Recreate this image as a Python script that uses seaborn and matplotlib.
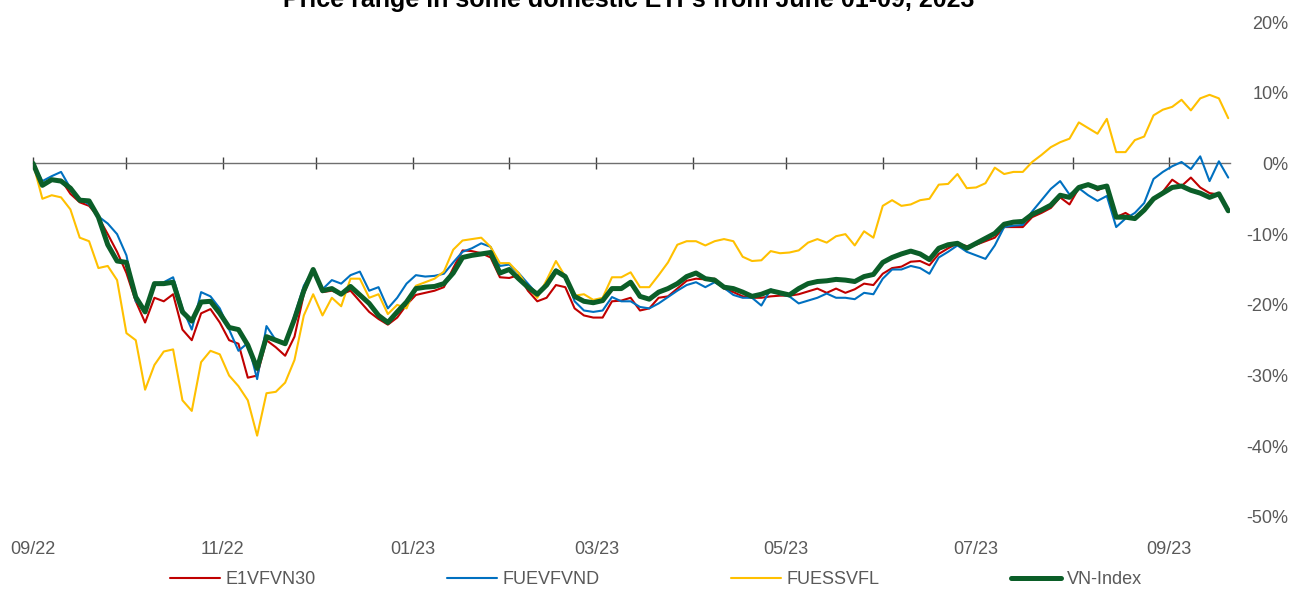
import matplotlib
matplotlib.use('Agg')

import matplotlib.pyplot as plt
import matplotlib.dates as mdates
import seaborn as sns
import pandas as pd

# data: % change vs start, one reading every 3 days
dates = pd.date_range("2022-09-01", periods=129, freq="3D")

e1vfvn30 = [
    0.0, -3.0, -2.4, -2.3, -4.3, -5.5, -6.0, -7.6, -10.0, -12.5,
    -15.5, -19.5, -22.5, -19.0, -19.5, -18.5, -23.5, -25.0, -21.2, -20.6,
    -22.5, -25.0, -25.5, -30.3, -30.0, -25.0, -26.0, -27.2, -24.5, -18.5,
    -15.0, -18.2, -18.0, -18.5, -18.0, -19.5, -21.0, -22.0, -22.8, -21.8,
    -20.0, -18.6, -18.3, -18.0, -17.5, -14.8, -12.3, -12.4, -12.7, -13.3,
    -16.1, -16.2, -15.8, -18.0, -19.5, -19.0, -17.2, -17.5, -20.5, -21.5,
    -21.8, -21.8, -19.5, -19.4, -19.0, -20.8, -20.5, -19.0, -18.8, -17.7,
    -16.6, -16.3, -16.4, -16.3, -17.7, -18.2, -18.8, -19.0, -19.0, -18.8,
    -18.7, -18.7, -18.5, -18.1, -17.7, -18.3, -17.7, -18.3, -17.8, -17.0,
    -17.2, -15.6, -14.8, -14.6, -13.9, -13.8, -14.4, -12.8, -12.0, -11.3,
    -11.7, -11.5, -11.0, -10.5, -9.0, -9.0, -9.0, -7.6, -7.0, -6.3,
    -4.8, -5.8, -3.5, -2.9, -3.8, -3.2, -7.6, -7.0, -7.8, -6.5,
    -5.2, -4.0, -2.3, -3.2, -2.0, -3.4, -4.2, -4.4, -6.4,
]

fuevfvnd = [
    0.0, -2.5, -1.8, -1.2, -3.5, -5.0, -5.8, -7.5, -8.5, -10.0,
    -13.0, -19.5, -20.5, -17.0, -16.8, -16.1, -20.5, -23.5, -18.2, -18.8,
    -20.5, -23.5, -26.5, -25.4, -30.5, -23.0, -25.0, -25.5, -21.5, -17.3,
    -15.0, -17.8, -16.5, -17.0, -15.8, -15.3, -18.0, -17.5, -20.5, -19.0,
    -17.0, -15.8, -16.0, -15.9, -15.6, -14.0, -12.5, -12.0, -11.3, -11.8,
    -14.5, -14.3, -15.5, -17.0, -18.5, -17.0, -15.0, -15.8, -19.5, -20.8,
    -21.0, -20.8, -18.9, -19.5, -19.5, -20.3, -20.5, -19.8, -18.9, -18.0,
    -17.2, -16.8, -17.5, -16.8, -17.6, -18.6, -19.0, -19.0, -20.1, -17.8,
    -18.5, -18.8, -19.8, -19.4, -19.0, -18.4, -19.0, -19.0, -19.2, -18.3,
    -18.5, -16.3, -15.0, -15.0, -14.5, -14.8, -15.6, -13.3, -12.5, -11.6,
    -12.5, -13.0, -13.5, -11.6, -9.0, -8.8, -8.7, -6.8, -5.2, -3.6,
    -2.5, -4.4, -3.5, -4.5, -5.3, -4.6, -9.0, -7.8, -7.0, -5.6,
    -2.2, -1.2, -0.4, 0.2, -0.8, 1.0, -2.5, 0.3, -2.0,
]

fuessvfl = [
    0.0, -5.0, -4.5, -4.8, -6.5, -10.5, -11.0, -14.8, -14.5, -16.5,
    -24.0, -25.0, -32.0, -28.5, -26.6, -26.3, -33.5, -35.0, -28.1, -26.5,
    -27.0, -30.0, -31.5, -33.5, -38.5, -32.5, -32.3, -31.0, -27.8, -21.5,
    -18.5, -21.5, -19.0, -20.2, -16.3, -16.3, -19.0, -18.5, -21.3, -20.0,
    -20.5, -17.3, -16.8, -16.3, -15.3, -12.2, -10.9, -10.7, -10.5, -11.8,
    -14.1, -14.1, -15.5, -17.5, -19.0, -16.5, -13.8, -16.0, -18.7, -18.5,
    -19.3, -19.0, -16.1, -16.1, -15.4, -17.5, -17.5, -15.8, -14.0, -11.5,
    -11.0, -11.0, -11.6, -11.0, -10.7, -11.0, -13.2, -13.8, -13.7, -12.4,
    -12.7, -12.6, -12.3, -11.2, -10.7, -11.2, -10.3, -10.0, -11.6, -9.6,
    -10.5, -6.0, -5.2, -6.0, -5.8, -5.2, -5.0, -3.0, -2.9, -1.5,
    -3.5, -3.4, -2.8, -0.6, -1.5, -1.2, -1.2, 0.2, 1.2, 2.3,
    3.0, 3.5, 5.8, 5.0, 4.2, 6.3, 1.6, 1.6, 3.3, 3.8,
    6.8, 7.6, 8.0, 9.0, 7.5, 9.2, 9.7, 9.2, 6.4,
]

vn_index = [
    0.0, -3.1, -2.3, -2.5, -3.5, -5.2, -5.3, -7.6, -11.5, -13.8,
    -14.0, -18.9, -21.0, -17.0, -17.0, -16.8, -21.0, -22.3, -19.6, -19.5,
    -21.2, -23.2, -23.5, -25.7, -29.0, -24.5, -25.0, -25.5, -22.0, -18.0,
    -15.0, -18.0, -17.7, -18.5, -17.4, -18.6, -19.8, -21.5, -22.5, -21.0,
    -19.6, -17.7, -17.5, -17.4, -17.0, -15.5, -13.3, -13.0, -12.8, -12.6,
    -15.5, -15.0, -16.3, -17.5, -18.5, -17.2, -15.2, -16.0, -18.8, -19.5,
    -19.7, -19.4, -17.7, -17.7, -16.8, -18.8, -19.2, -18.2, -17.7, -17.0,
    -16.0, -15.5, -16.3, -16.5, -17.5, -17.7, -18.2, -18.8, -18.5, -18.0,
    -18.3, -18.6, -17.7, -17.0, -16.7, -16.6, -16.4, -16.5, -16.7, -16.0,
    -15.7, -14.0, -13.3, -12.8, -12.4, -12.8, -13.6, -12.0, -11.5, -11.3,
    -12.0, -11.3, -10.6, -9.9, -8.6, -8.3, -8.2, -7.2, -6.6, -5.9,
    -4.5, -4.8, -3.4, -3.0, -3.5, -3.2, -7.6, -7.6, -7.8, -6.6,
    -5.0, -4.2, -3.4, -3.2, -3.8, -4.2, -4.8, -4.3, -6.7,
]

series = [
    ("E1VFVN30", e1vfvn30, "#C00000", 1.5),
    ("FUEVFVND", fuevfvnd, "#0070C0", 1.5),
    ("FUESSVFL", fuessvfl, "#FFC000", 1.5),
    ("VN-Index", vn_index, "#0B5E28", 3.6),
]

title = "Price range in some domestic ETFs from June 01-09, 2023"
grey = "#595959"

sns.set_theme(style="white")
plt.rcParams["font.family"] = ["Liberation Sans", "DejaVu Sans"]

fig = plt.figure(figsize=(13.01, 5.93), dpi=100)
ax = fig.add_axes([0.0254, 0.1282, 0.9201, 0.8347])

for name, vals, color, lw in series:
    sns.lineplot(x=dates, y=vals, ax=ax, color=color, linewidth=lw,
                 label=name, solid_joinstyle="round")

if ax.get_legend() is not None:
    ax.get_legend().remove()
ax.set(xlabel="", ylabel="")

ax.set_ylim(-50, 20)
ax.set_xlim(pd.Timestamp("2022-09-01"), pd.Timestamp("2022-09-01") + pd.Timedelta(days=384.6))
for s in ax.spines.values():
    s.set_visible(False)

# y axis on the right
ax.yaxis.tick_right()
ax.set_yticks(range(-50, 21, 10))
ax.set_yticklabels([f"{v}%" for v in range(-50, 21, 10)])
ax.tick_params(axis="y", length=0, pad=42, labelsize=13, labelcolor=grey)
plt.setp(ax.get_yticklabels(), ha="right")

# date labels at the bottom, every 2 months
ax.xaxis.set_major_locator(mdates.MonthLocator(bymonth=[1, 3, 5, 7, 9, 11]))
ax.xaxis.set_major_formatter(mdates.DateFormatter("%m/%y"))
ax.tick_params(axis="x", length=0, pad=17, labelsize=13, labelcolor=grey)

# zero line with monthly tick marks
zero = ax.secondary_xaxis((0 - (-50)) / 70)
zero.xaxis.set_major_locator(mdates.MonthLocator())
zero.tick_params(direction="inout", length=9, width=1, color="#404040",
                 labeltop=False, labelbottom=False)
for s in zero.spines.values():
    s.set_color("#6f6f6f")
    s.set_linewidth(1.0)

# title sits partly above the top edge, as in the source image
fig.text(0.483, 1 - 7 / 593, title, ha="center", va="baseline",
         fontsize=18, fontweight="bold", color="black")

handles, labels = ax.get_legend_handles_labels()
fig.legend(handles, labels, loc="center", bbox_to_anchor=(0.504, 0.022), ncol=4,
           frameon=False, fontsize=13, handlelength=2.8, handletextpad=0.3,
           columnspacing=7.25, labelcolor=grey)

plt.savefig("out.png", dpi=100)
plt.close()
